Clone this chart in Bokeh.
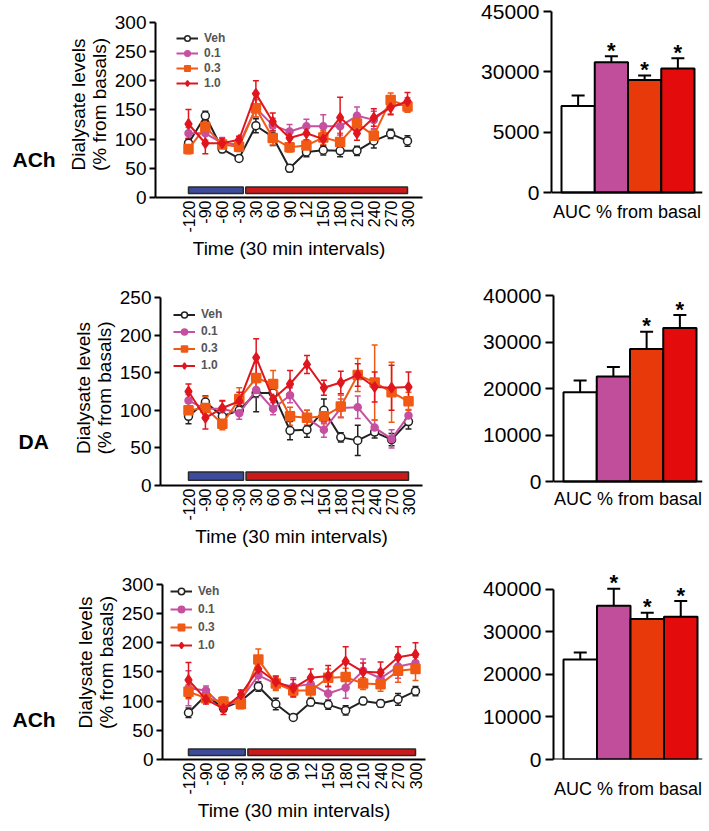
import math
from bokeh.plotting import figure
from bokeh.models import (ColumnDataSource, Whisker, TeeHead, FixedTicker, Legend,
                          LegendItem, Label, Range1d, Span)
from bokeh.layouts import row, column
from bokeh.embed import file_html
from bokeh.resources import INLINE
from bokeh.core.properties import value

# ---------------- data ----------------
time_labels = ["-120", "-90", "-60", "-30", "30", "60", "90", "12",
               "150", "180", "210", "240", "270", "300"]
groups = ["Veh", "0.1", "0.3", "1.0"]
baseline_idx = [0, 1, 2, 3]
drug_idx = [4, 5, 6, 7, 8, 9, 10, 11, 12, 13]

# Panel A: ACh (top)
ach1_veh = [93, 140, 83, 67, 123, 104, 50, 78, 81, 80, 80, 97, 109, 97]
ach1_veh_err = [8, 8, 6, 4, 12, 15, 6, 8, 8, 10, 8, 12, 8, 9]
ach1_01 = [110, 110, 93, 91, 153, 124, 113, 122, 122, 122, 140, 133, 158, 159]
ach1_01_err = [10, 12, 10, 6, 15, 12, 12, 12, 20, 15, 15, 15, 15, 12]
ach1_03 = [83, 121, 91, 87, 153, 102, 86, 89, 103, 95, 127, 106, 167, 156]
ach1_03_err = [8, 10, 8, 8, 15, 12, 8, 10, 12, 15, 10, 10, 12, 10]
ach1_10 = [126, 93, 93, 99, 178, 130, 102, 110, 100, 137, 110, 137, 154, 165]
ach1_10_err = [25, 18, 8, 6, 22, 15, 10, 12, 12, 35, 12, 15, 12, 15]
ach1_auc = [21500, 32400, 28000, 30800]
ach1_auc_err = [2600, 1450, 1100, 2600]
ach1_sig = [False, True, True, True]
ach1_yticks = [0, 15000, 30000, 45000]
ach1_ytick_labels = ["0", "5000", "30000", "45000"]

# Panel B: DA (middle)
da_veh = [92, 111, 92, 100, 123, 123, 73, 74, 100, 64, 60, 71, 61, 85]
da_veh_err = [10, 8, 8, 6, 25, 8, 12, 10, 15, 6, 20, 8, 8, 10]
da_01 = [113, 102, 102, 96, 127, 102, 120, 90, 74, 103, 104, 77, 62, 93]
da_01_err = [8, 8, 10, 8, 10, 8, 10, 10, 10, 12, 15, 10, 12, 8]
da_03 = [100, 103, 82, 115, 143, 135, 92, 90, 92, 105, 147, 137, 124, 112]
da_03_err = [10, 15, 8, 15, 20, 18, 12, 10, 10, 15, 22, 50, 40, 12]
da_10 = [125, 90, 103, 112, 170, 115, 135, 161, 130, 137, 147, 131, 130, 131]
da_10_err = [10, 15, 10, 12, 25, 15, 18, 12, 10, 15, 15, 20, 30, 20]
da_auc = [19200, 22600, 28500, 33000]
da_auc_err = [2500, 2000, 3700, 2800]
da_sig = [False, False, True, True]
da_yticks = [0, 10000, 20000, 30000, 40000]
da_ytick_labels = ["0", "10000", "20000", "30000", "40000"]

# Panel C: ACh (bottom)
ach2_veh = [80, 110, 88, 100, 125, 95, 72, 98, 94, 84, 100, 96, 103, 117]
ach2_veh_err = [8, 6, 6, 4, 8, 10, 4, 6, 8, 8, 6, 6, 10, 8]
ach2_01 = [122, 118, 90, 103, 144, 130, 125, 129, 113, 123, 152, 139, 159, 165]
ach2_01_err = [30, 8, 8, 8, 12, 10, 15, 12, 12, 18, 20, 15, 20, 15]
ach2_03 = [116, 105, 99, 95, 171, 130, 118, 118, 140, 141, 130, 129, 152, 155]
ach2_03_err = [12, 8, 8, 8, 18, 12, 10, 12, 15, 15, 10, 12, 20, 20]
ach2_10 = [136, 103, 87, 111, 155, 133, 122, 140, 143, 168, 150, 149, 175, 180]
ach2_10_err = [30, 8, 10, 8, 15, 10, 15, 15, 18, 25, 15, 18, 18, 20]
ach2_auc = [23500, 36100, 33000, 33500]
ach2_auc_err = [1600, 4000, 1450, 3700]
ach2_sig = [False, True, True, True]
ach2_yticks = [0, 10000, 20000, 30000, 40000]
ach2_ytick_labels = ["0", "10000", "20000", "30000", "40000"]

# ---------------- styles / layout (screen px) ----------------
FONT = "Liberation Sans"
LINE_COLORS = ["#222222", "#c64fa0", "#f05a14", "#e0161e"]
BAR_COLORS = ["#ffffff", "#c04e9b", "#e8390a", "#e30b0b"]
MARKERS = ["circle", "circle", "square", "diamond"]
MSIZES = [8, 7, 9, 10]
OX, OY = 0, 0          # page origin of the layout as observed
NAME_W = 58
LEFT_W = 402
RIGHT_W = 243


def style_axes(p):
    for ax in (p.xaxis[0], p.yaxis[0]):
        ax.axis_line_width = 2
        ax.axis_line_color = "black"
        ax.major_tick_line_width = 2
        ax.minor_tick_line_color = None
        ax.major_label_text_font = FONT
        ax.axis_label_text_font = FONT
        ax.axis_label_text_font_style = "normal"
        ax.major_label_text_color = "black"
        ax.axis_label_text_color = "black"
    p.grid.visible = False
    p.outline_line_color = None
    p.background_fill_color = "white"
    p.border_fill_color = "white"


def name_panel(name, rowcfg, nx, ny):
    p = figure(width=NAME_W, height=rowcfg["h"], output_backend="svg", toolbar_location=None,
               x_range=Range1d(0, 1), y_range=Range1d(0, 1),
               min_border_left=0, min_border_right=0,
               min_border_top=rowcfg["T"] - rowcfg["top"],
               min_border_bottom=rowcfg["top"] + rowcfg["h"] - rowcfg["B"])
    p.axis.visible = False
    p.grid.visible = False
    p.outline_line_color = None
    p.add_layout(Label(x=nx, y=ny, x_units="screen", y_units="screen",
                       text=name, text_font=FONT, text_font_style="bold",
                       text_font_size="21px", text_baseline="middle", text_color="black"))
    return p


def line_panel(series, errs, ymax, ystep, rowcfg, cfg):
    n = len(time_labels)
    xs = list(range(n))
    T, B = rowcfg["T"], rowcfg["B"]
    L, R, a, b = cfg["L"], cfg["R"], cfg["a"], cfg["b"]
    s = (b - a) / (n - 1)
    x0 = -(a - L) / s
    x1 = (n - 1) + (R - b) / s
    k = (cfg["y0px"] - cfg["ytpx"]) / ymax
    y0 = -(B - cfg["y0px"]) / k
    y1 = ymax + (cfg["ytpx"] - T) / k
    fig_left = OX + NAME_W
    p = figure(width=LEFT_W, height=rowcfg["h"], output_backend="svg", toolbar_location=None,
               x_range=Range1d(x0, x1), y_range=Range1d(y0, y1),
               min_border_left=L - fig_left, min_border_right=fig_left + LEFT_W - R,
               min_border_top=T - rowcfg["top"],
               min_border_bottom=rowcfg["top"] + rowcfg["h"] - B)
    style_axes(p)

    # treatment phase bars
    p.quad(left=[baseline_idx[0]], right=[baseline_idx[-1] + 0.25], bottom=[7], top=[18],
           fill_color="#3d4b9c", line_color="#2a2a2a", line_width=1.5)
    p.quad(left=[drug_idx[0] - 0.6], right=[drug_idx[-1]], bottom=[7], top=[18],
           fill_color="#cc1a1a", line_color="#2a2a2a", line_width=1.5)

    items = []
    for i, (g, ys, es) in enumerate(zip(groups, series, errs)):
        c = LINE_COLORS[i]
        src = ColumnDataSource(dict(x=xs, y=ys,
                                    lo=[v - e for v, e in zip(ys, es)],
                                    hi=[v + e for v, e in zip(ys, es)]))
        w = Whisker(source=src, base="x", lower="lo", upper="hi",
                    line_color=c, line_width=1.5,
                    upper_head=TeeHead(size=6, line_color=c, line_width=1.5),
                    lower_head=TeeHead(size=6, line_color=c, line_width=1.5))
        p.add_layout(w)
        lr = p.line("x", "y", source=src, line_color=c, line_width=2)
        fill = "white" if i == 0 else c
        mr = p.scatter("x", "y", source=src, marker=MARKERS[i], size=MSIZES[i],
                       fill_color=fill, line_color=c, line_width=1.5)
        items.append(LegendItem(label=g, renderers=[lr, mr]))

    pad, lh, sp = 2, cfg["lh"], cfg["lsp"]
    leg_h = 2 * pad + len(groups) * lh + (len(groups) - 1) * sp
    leg_top = cfg["ly"] - lh / 2 - pad
    lg = Legend(items=items, location=(cfg["gx"] - L - pad, B - leg_top - leg_h),
                label_text_font=FONT, label_text_font_style="bold",
                label_text_font_size="12px", label_text_color="#555555",
                label_height=lh, glyph_height=lh, glyph_width=22,
                spacing=sp, padding=pad, margin=0, label_standoff=6,
                border_line_color=None, background_fill_alpha=0)
    p.add_layout(lg)

    xa = p.xaxis[0]
    xa.ticker = FixedTicker(ticks=xs)
    xa.major_label_overrides = {i: t for i, t in enumerate(time_labels)}
    xa.major_label_orientation = math.pi / 2
    xa.major_tick_out = 0
    xa.major_tick_in = 0
    xa.major_label_text_font_size = "16px"
    xa.major_label_standoff = 3
    xa.axis_label = "Time (30 min intervals)"
    xa.axis_label_text_font_size = "19px"
    xa.axis_label_standoff = 2

    ya = p.yaxis[0]
    ya.ticker = FixedTicker(ticks=list(range(0, ymax + 1, ystep)))
    ya.bounds = (0, ymax)
    ya.major_tick_out = 6
    ya.major_tick_in = 0
    ya.major_label_text_font_size = "19px"
    ya.major_label_standoff = 3
    ya.axis_label = "Dialysate levels\n(% from basals)"
    ya.axis_label_text_font_size = "19px"
    ya.axis_label_text_line_height = 1.0
    ya.axis_label_standoff = 2
    return p


def bar_panel(vals, errs, sig, yticks, ylabels, rowcfg, cfg):
    xs = list(range(len(groups)))
    T, B = rowcfg["T"], rowcfg["B"]
    fig_left = OX + NAME_W + LEFT_W
    L = fig_left + cfg["bl"]
    R = fig_left + RIGHT_W - cfg["br"]
    bw = (cfg["b1"] - cfg["b0"]) / len(groups)
    x0 = -0.5 - (cfg["b0"] - L) / bw
    x1 = len(groups) - 0.5 + (R - cfg["b1"]) / bw
    ytop = yticks[-1]
    k = (cfg["y0px"] - cfg["ytpx"]) / ytop
    y0 = -(B - cfg["y0px"]) / k
    y1 = ytop + (cfg["ytpx"] - T) / k
    p = figure(width=RIGHT_W, height=rowcfg["h"], output_backend="svg", toolbar_location=None,
               x_range=Range1d(x0, x1), y_range=Range1d(y0, y1),
               min_border_left=cfg["bl"], min_border_right=cfg["br"],
               min_border_top=T - rowcfg["top"],
               min_border_bottom=rowcfg["top"] + rowcfg["h"] - B)
    style_axes(p)
    src = ColumnDataSource(dict(x=xs, top=vals, color=BAR_COLORS,
                                hi=[v + e for v, e in zip(vals, errs)]))
    w = Whisker(source=src, base="x", lower="top", upper="hi",
                line_color="black", line_width=2,
                upper_head=TeeHead(size=13, line_color="black", line_width=2),
                lower_head=None)
    p.add_layout(w)
    p.vbar(x="x", top="top", bottom=0, width=1, fill_color="color", line_color="black",
           line_width=2, source=src)
    p.add_layout(Span(location=0, dimension="width", line_color="black", line_width=2))
    sx = [x for x, s in zip(xs, sig) if s]
    sy = [v + e for v, e, s in zip(vals, errs, sig) if s]
    p.text(x=sx, y=sy, text=["*"] * len(sx), text_align="center", text_baseline="middle",
           y_offset=-6, text_font=value(FONT), text_font_style="bold",
           text_font_size="22px", text_color="black")

    xa = p.xaxis[0]
    xa.ticker = FixedTicker(ticks=[])
    xa.axis_line_color = None
    xa.major_tick_out = 0
    xa.axis_label = "AUC % from basal"
    xa.axis_label_text_font_size = "18px"
    xa.axis_label_standoff = cfg["ls"]

    ya = p.yaxis[0]
    ya.ticker = FixedTicker(ticks=yticks)
    ya.bounds = (0, ytop)
    ya.major_label_overrides = {t: l for t, l in zip(yticks, ylabels)}
    ya.major_tick_out = 8
    ya.major_tick_in = 0
    ya.major_label_text_font_size = "21px"
    ya.major_label_standoff = 4
    return p


row1 = dict(top=OY, h=261, T=11, B=198)
row2 = dict(top=OY + 261, h=289, T=290, B=485)
row3 = dict(top=OY + 550, h=273, T=565, B=762)

n1 = name_panel("ACh", row1, 12, 38)
l1 = line_panel([ach1_veh, ach1_01, ach1_03, ach1_10],
                [ach1_veh_err, ach1_01_err, ach1_03_err, ach1_10_err], 300, 50, row1,
                dict(L=155, R=422, a=188, b=407, y0px=198, ytpx=22,
                     gx=178, ly=37, lh=14, lsp=1))
r1 = bar_panel(ach1_auc, ach1_auc_err, ach1_sig, ach1_yticks, ach1_ytick_labels, row1,
               dict(bl=91, br=1, b0=561, b1=694, y0px=193, ytpx=11, ls=4))

n2 = name_panel("DA", row2, 18, 44)
l2 = line_panel([da_veh, da_01, da_03, da_10],
                [da_veh_err, da_01_err, da_03_err, da_10_err], 250, 50, row2,
                dict(L=160, R=422, a=188, b=408, y0px=485, ytpx=297,
                     gx=175, ly=312, lh=15, lsp=2))
r2 = bar_panel(da_auc, da_auc_err, da_sig, da_yticks, da_ytick_labels, row2,
               dict(bl=93, br=1, b0=563, b1=696, y0px=481, ytpx=295, ls=3))

n3 = name_panel("ACh", row3, 12, 40)
l3 = line_panel([ach2_veh, ach2_01, ach2_03, ach2_10],
                [ach2_veh_err, ach2_01_err, ach2_03_err, ach2_10_err], 300, 50, row3,
                dict(L=162, R=425, a=188, b=415, y0px=762, ytpx=584,
                     gx=172, ly=592, lh=16, lsp=2))
r3 = bar_panel(ach2_auc, ach2_auc_err, ach2_sig, ach2_yticks, ach2_ytick_labels, row3,
               dict(bl=93, br=1, b0=563, b1=697, y0px=762, ytpx=589, ls=19))

layout = column(row(n1, l1, r1, spacing=0), row(n2, l2, r2, spacing=0),
                row(n3, l3, r3, spacing=0), spacing=0)
open("out.html", "w").write(file_html(layout, INLINE))
